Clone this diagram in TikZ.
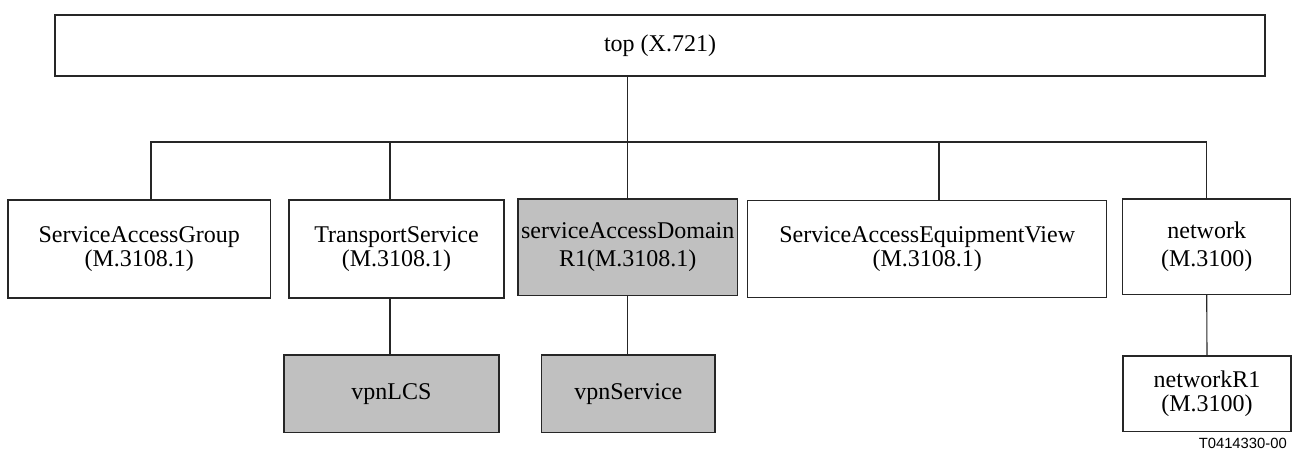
\documentclass[tikz,border=0pt]{standalone}
\usepackage{fontspec}
\setmainfont{Liberation Serif}
\newfontfamily\labelfont{Liberation Sans}
\definecolor{boxgray}{HTML}{C0C0C0}
\definecolor{linecol}{HTML}{262626}
\begin{document}
\begin{tikzpicture}[x=1pt,y=-1pt,
  box/.style={draw=linecol, line width=1.1pt, inner sep=0pt, align=center,
    font=\fontsize{24}{23.5}\selectfont},
  graybox/.style={box, fill=boxgray},
  conn/.style={draw=linecol, line width=1.1pt}]
\useasboundingbox (0,0) rectangle (1293,450);

\node[box, minimum width=1210pt, minimum height=61pt] (top) at (660,45.5) {top (X.721)};

\node[box, minimum width=262.5pt, minimum height=98pt] (sag) at (139.25,249) {ServiceAccessGroup\\(M.3108.1)};
\node[box, minimum width=215pt, minimum height=98pt] (ts) at (396.5,249) {TransportService\\(M.3108.1)};
\node[graybox, minimum width=219.5pt, minimum height=96.5pt, font=\fontsize{24}{28}\selectfont] (sad) at (627.75,247.25) {serviceAccessDomain\\R1(M.3108.1)};
\node[box, minimum width=359pt, minimum height=97.7pt] (saev) at (927.2,248.9) {ServiceAccessEquipmentView\\(M.3108.1)};
\node[box, minimum width=168pt, minimum height=95.3pt, font=\fontsize{24}{27.7}\selectfont] (net) at (1206.7,246.6) {network\\(M.3100)};

\node[graybox, minimum width=215pt, minimum height=77.7pt] (vpnlcs) at (391.5,393.8) {vpnLCS};
\node[graybox, minimum width=173.3pt, minimum height=77.7pt] (vpns) at (628.35,393.8) {vpnService};
\node[box, minimum width=168pt, minimum height=75.7pt, font=\fontsize{24}{24.3}\selectfont] (netr1) at (1207,393.8) {networkR1\\(M.3100)};

\coordinate (busL) at (151,142);
\coordinate (busR) at (1206.7,142);
\coordinate (tsd) at (390,142);
\coordinate (saevd) at (939,142);

\draw[conn] (top.south -| sad.north) -- (sad.north);
\draw[conn] (sag.north -| busL) -- (busL) -- (busR) -- (net.north);
\draw[conn] (tsd) -- (tsd |- ts.north);
\draw[conn] (saevd) -- (saevd |- saev.north);
\draw[conn] (tsd |- ts.south) -- (tsd |- vpnlcs.north);
\draw[conn] (sad.south) -- (sad.south |- vpns.north);
\draw[conn] (net.south) -- (netr1.north);

\node[anchor=base east, inner sep=0pt, font=\labelfont\fontsize{14.8}{16}\selectfont] (code) at (1287,448) {T0414330-00};
\end{tikzpicture}
\end{document}
